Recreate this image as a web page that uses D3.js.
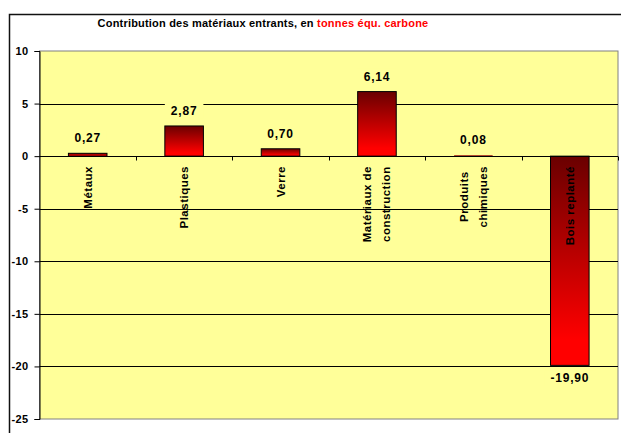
<!DOCTYPE html>
<html>
<head>
<meta charset="utf-8">
<script src="https://cdn.jsdelivr.net/npm/d3@7"></script>
<style>
  body { margin: 0; background: #fff; }
  text { font-family: Arial, "Liberation Sans", sans-serif; font-weight: bold; }
</style>
</head>
<body>
<div id="chart"></div>
<script>
// data
let categories = [["Métaux"], ["Plastiques"], ["Verre"], ["Matériaux de", "construction"], ["Produits", "chimiques"], ["Bois replanté"]];
let values = [0.27, 2.87, 0.70, 6.14, 0.08, -19.90];
let yTicks = [10, 5, 0, -5, -10, -15, -20, -25];

let w = 621, h = 433;
let margin = {left: 39.5, top: 51, right: 3, bottom: 14};

let svg = d3.select("#chart").append("svg")
    .attr("width", w)
    .attr("height", h);

// outer frame
svg.append("rect")
    .attr("x", 9.5)
    .attr("y", 14.5)
    .attr("width", 700)
    .attr("height", 500)
    .attr("fill", "white")
    .attr("stroke", "#111")
    .attr("stroke-width", 1.5);

let x = d3.scaleBand()
    .domain(d3.range(values.length))
    .range([margin.left, w - margin.right])
    .paddingInner(0.6)
    .paddingOuter(0.3);
let band = d3.scaleBand()
    .domain(d3.range(values.length))
    .range([margin.left, w - margin.right]);
let y = d3.scaleLinear()
    .domain([-25, 10])
    .range([h - margin.bottom, margin.top]);

let defs = svg.append("defs");
let grad = defs.append("linearGradient")
    .attr("id", "barGrad")
    .attr("x1", 0).attr("y1", 0).attr("x2", 0).attr("y2", 1);
grad.append("stop").attr("offset", 0).attr("stop-color", "#6a0000");
grad.append("stop").attr("offset", 0.88).attr("stop-color", "#ff0000");
grad.append("stop").attr("offset", 1).attr("stop-color", "#ff0000");

// plot area
svg.append("rect")
    .attr("x", margin.left)
    .attr("y", y(10))
    .attr("width", w - margin.right - margin.left)
    .attr("height", y(-25) - y(10))
    .attr("fill", "#ffff99")
    .attr("stroke", "#808080")
    .attr("stroke-width", 1);

// gridlines
svg.append("g")
    .selectAll("line")
    .data(yTicks.filter(d => d > -25 && d < 10))
    .enter()
    .append("line")
    .attr("x1", margin.left)
    .attr("x2", w - margin.right)
    .attr("y1", d => Math.round(y(d)) + 0.5)
    .attr("y2", d => Math.round(y(d)) + 0.5)
    .attr("stroke", "#000")
    .attr("stroke-width", 1);

// y axis
let yAxis = svg.append("g")
    .attr("transform", `translate(${margin.left},0)`)
    .call(d3.axisLeft(y).tickValues(yTicks).tickSize(5).tickPadding(6).tickFormat(d => String(d)));
yAxis.select(".domain").attr("stroke", "#000");
yAxis.selectAll(".tick line").attr("stroke", "#000");
yAxis.selectAll("text")
    .attr("font-size", 11)
    .attr("font-family", "Arial, 'Liberation Sans', sans-serif")
    .attr("font-weight", "bold")
    .attr("letter-spacing", 0.4)
    .attr("fill", "#000");

// bars
svg.append("g")
    .selectAll("rect")
    .data(values)
    .enter()
    .append("rect")
    .attr("x", (d, i) => x(i))
    .attr("y", d => y(Math.max(0, d)))
    .attr("width", x.bandwidth())
    .attr("height", d => Math.abs(y(d) - y(0)))
    .attr("fill", "url(#barGrad)")
    .attr("stroke", d => Math.abs(y(d) - y(0)) > 2 ? "#000" : "none")
    .attr("stroke-width", 1);

// zero axis with category tick marks
let y0 = Math.round(y(0)) + 0.5;
svg.append("line")
    .attr("x1", margin.left)
    .attr("x2", w - margin.right)
    .attr("y1", y0)
    .attr("y2", y0)
    .attr("stroke", "#000");
svg.append("g")
    .selectAll("line")
    .data(d3.range(1, values.length + 1))
    .enter()
    .append("line")
    .attr("x1", i => Math.round(band(i - 1) + band.bandwidth()) + 0.5)
    .attr("x2", i => Math.round(band(i - 1) + band.bandwidth()) + 0.5)
    .attr("y1", y0)
    .attr("y2", y0 + 4)
    .attr("stroke", "#000");

// value labels
let fmt = v => (v < 0 ? "-" : "") + d3.format(".2f")(Math.abs(v)).replace(".", ",");
let labels = svg.append("g")
    .selectAll("g")
    .data(values)
    .enter()
    .append("g")
    .attr("transform", (d, i) => `translate(${x(i) + x.bandwidth() / 2},${d >= 0 ? y(d) - 11 : y(d) + 17})`);
labels.append("rect").attr("fill", "#ffff99");
labels.append("text")
    .attr("text-anchor", "middle")
    .attr("font-size", 12)
    .attr("letter-spacing", 0.8)
    .attr("fill", "#000")
    .text(d => fmt(d));
labels.each(function () {
    let g = d3.select(this);
    let bb = g.select("text").node().getBBox();
    g.select("rect")
        .attr("x", bb.x - 6)
        .attr("y", bb.y - 1)
        .attr("width", bb.width + 12)
        .attr("height", bb.height + 2);
});

// category labels, rotated, top aligned just below the zero line
let catTop = 166;
categories.forEach((lines, i) => {
    let cx = band(i) + band.bandwidth() / 2;
    let g = svg.append("g");
    let texts = g.selectAll("text")
        .data(lines)
        .enter()
        .append("text")
        .attr("font-size", 11.5)
        .attr("letter-spacing", 0.5)
        .attr("fill", "#000")
        .attr("text-anchor", "middle")
        .text(d => d);
    let maxLen = d3.max(texts.nodes(), n => n.getComputedTextLength());
    let cy = catTop + maxLen / 2;
    let n = lines.length;
    texts.attr("transform", (d, j) => {
        let off = (j - (n - 1) / 2) * 19;
        return `translate(${cx + off + 4},${cy}) rotate(-90)`;
    });
});

// title
let title = svg.append("text")
    .attr("x", 263)
    .attr("y", 27)
    .attr("text-anchor", "middle")
    .attr("font-size", 11)
    .attr("letter-spacing", 0.2)
    .attr("fill", "#000");
title.append("tspan").text("Contribution des matériaux entrants, en ");
title.append("tspan").attr("fill", "#ff0000").text("tonnes équ. carbone");
</script>
</body>
</html>
